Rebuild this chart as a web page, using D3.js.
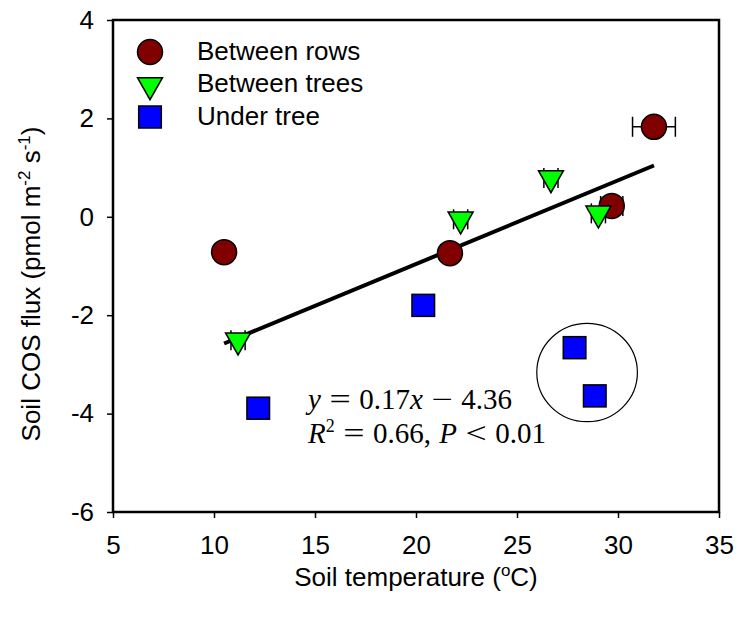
<!DOCTYPE html>
<html>
<head>
<meta charset="utf-8">
<script src="https://cdn.jsdelivr.net/npm/d3@7"></script>
<style>
  body { margin: 0; background: #fff; }
  text { font-family: Arial, "Liberation Sans", sans-serif; }
</style>
</head>
<body>
<div id="chart"></div>
<script>
// values
const rowsX = [10.5, 21.68, 29.69, 31.78];
const rowsY = [-0.72, -0.74, 0.22, 1.83];
const rowsXErr = [0, 0, 0.55, 1.06];

const treesX = [11.19, 22.21, 26.68, 29.03];
const treesY = [-2.51, -0.05, 0.79, 0.07];
const treesXErr = [0.35, 0.35, 0.35, 0.35];

const underX = [12.19, 20.36, 27.85, 28.85];
const underY = [-3.89, -1.80, -2.66, -3.64];

const seriesNames = ["Between rows", "Between trees", "Under tree"];
const xTicks = [5, 10, 15, 20, 25, 30, 35];
const yTicks = [-6, -4, -2, 0, 2, 4];

const slope = 0.17, intercept = -4.36;

const width = 739, height = 626;
const margin = {left: 113, right: 20, top: 20, bottom: 114};
const serif = "'Times New Roman', 'Liberation Serif', serif";

const svg = d3.select("#chart").append("svg")
  .attr("width", width)
  .attr("height", height);

let x = d3.scaleLinear().domain([5, 35]).range([margin.left, width - margin.right]);
let y = d3.scaleLinear().domain([-6, 4]).range([height - margin.bottom, margin.top]);

// frame
svg.append("rect")
  .attr("x", x(5)).attr("y", y(4))
  .attr("width", x(35) - x(5)).attr("height", y(-6) - y(4))
  .attr("fill", "none").attr("stroke", "#000").attr("stroke-width", 2.5);

let xAxis = svg.append("g")
  .attr("transform", `translate(0,${y(-6)})`)
  .call(d3.axisBottom(x).tickValues(xTicks).tickSize(6));
let yAxis = svg.append("g")
  .attr("transform", `translate(${x(5)},0)`)
  .call(d3.axisLeft(y).tickValues(yTicks).tickSize(6).tickPadding(13).tickFormat(d => String(d)));

[xAxis, yAxis].forEach(a => {
  a.select(".domain").remove();
  a.selectAll("line").attr("stroke", "#000").attr("stroke-width", 1.5);
  a.selectAll("text").attr("font-size", 26).attr("fill", "#000")
    .style("font-family", "Arial, 'Liberation Sans', sans-serif");
});
xAxis.selectAll("text").attr("dy", "0.71em").attr("y", 24);

// axis titles
let xt = svg.append("text")
  .attr("x", (x(5) + x(35)) / 2).attr("y", 586)
  .attr("text-anchor", "middle").attr("font-size", 26);
xt.append("tspan").text("Soil temperature (");
xt.append("tspan").text("o").attr("font-size", 17).attr("dy", -10);
xt.append("tspan").text("C)").attr("dy", 10);

let yt = svg.append("text")
  .attr("transform", `translate(40,284) rotate(-90)`)
  .attr("text-anchor", "middle").attr("font-size", 26);
yt.append("tspan").text("Soil COS flux (pmol m");
yt.append("tspan").text("-2").attr("font-size", 17).attr("dy", -10);
yt.append("tspan").text(" s").attr("dy", 10);
yt.append("tspan").text("-1").attr("font-size", 17).attr("dy", -10);
yt.append("tspan").text(")").attr("dy", 10);

// regression line
let allX = rowsX.concat(treesX, underX);
let xr = d3.extent(allX);
svg.append("line")
  .attr("x1", x(xr[0])).attr("y1", y(slope * xr[0] + intercept))
  .attr("x2", x(xr[1])).attr("y2", y(slope * xr[1] + intercept))
  .attr("stroke", "#000").attr("stroke-width", 4);

// error bars
function errorBars(xs, ys, errs) {
  let g = svg.append("g").attr("stroke", "#000").attr("stroke-width", 1.5);
  xs.forEach((v, i) => {
    if (!errs[i]) return;
    let cy = y(ys[i]);
    g.append("line").attr("x1", x(v - errs[i])).attr("x2", x(v + errs[i])).attr("y1", cy).attr("y2", cy);
    [v - errs[i], v + errs[i]].forEach(e => {
      g.append("line").attr("x1", x(e)).attr("x2", x(e)).attr("y1", cy - 10).attr("y2", cy + 10);
    });
  });
}
errorBars(rowsX, rowsY, rowsXErr);
errorBars(treesX, treesY, treesXErr);

const triPath = (cx, cy) => `M${cx - 12.5},${cy - 7.3}L${cx + 12.5},${cy - 7.3}L${cx},${cy + 14.7}Z`;

function drawCircle(g, cx, cy) {
  g.append("circle").attr("cx", cx).attr("cy", cy).attr("r", 12.5)
    .attr("fill", "#800000").attr("stroke", "#000").attr("stroke-width", 1.5);
}
function drawTri(g, cx, cy) {
  g.append("path").attr("d", triPath(cx, cy))
    .attr("fill", "#00ff00").attr("stroke", "#000").attr("stroke-width", 1.5);
}
function drawSquare(g, cx, cy) {
  g.append("rect").attr("x", cx - 11.3).attr("y", cy - 11).attr("width", 22.6).attr("height", 22)
    .attr("fill", "#0000ff").attr("stroke", "#000").attr("stroke-width", 1.5);
}

let marks = svg.append("g");
underX.forEach((v, i) => drawSquare(marks, x(v), y(underY[i])));
rowsX.forEach((v, i) => drawCircle(marks, x(v), y(rowsY[i])));
treesX.forEach((v, i) => drawTri(marks, x(v), y(treesY[i])));

// circled group of under-tree points
svg.append("ellipse")
  .attr("cx", x(28.47)).attr("cy", y(-3.165))
  .attr("rx", x(28.47 + 2.49) - x(28.47)).attr("ry", y(-3.165 - 1) - y(-3.165))
  .attr("fill", "none").attr("stroke", "#000").attr("stroke-width", 1.2);

// legend
let legend = svg.append("g");
let legendY = [52, 85, 117];
drawCircle(legend, 150, legendY[0]);
drawTri(legend, 150, legendY[1]);
drawSquare(legend, 150, legendY[2]);
seriesNames.forEach((s, i) => {
  legend.append("text").attr("x", 197).attr("y", [60, 92, 125][i])
    .attr("font-size", 26).text(s);
});

// equation: pieces laid out between a start and end x, spare room goes around operators
// piece: [text, kind] kind: i italic, n normal, o operator, s superscript
function equation(pieces, x0, x1, base) {
  let items = pieces.map(p => {
    let sx = p[1] == "o" ? 1.3 : 1;
    let t = svg.append("text")
      .style("font-family", serif)
      .attr("font-size", p[1] == "s" ? 18 : 29)
      .attr("font-style", p[1] == "i" ? "italic" : "normal")
      .text(p[0]);
    return {t: t, kind: p[1], sx: sx, w: t.node().getComputedTextLength() * sx};
  });
  let gaps = 0;
  items.forEach((it, i) => { if (i > 0 && it.kind != "s" && items[i - 1].kind != "s" || (i > 0 && items[i - 1].kind == "s")) {} });
  // gap before and after each operator, and after a comma
  let gapAt = items.map((it, i) => i > 0 && (it.kind == "o" || items[i - 1].kind == "o" || /,$/.test(items[i - 1].t.text())) ? 1 : 0);
  gaps = d3.sum(gapAt);
  let free = (x1 - x0) - d3.sum(items, d => d.w);
  let gap = gaps ? free / gaps : 0;
  let cx = x0;
  items.forEach((it, i) => {
    cx += gapAt[i] * gap;
    let by = it.kind == "s" ? base - 11 : base;
    it.t.attr("transform", `translate(${cx},${by}) scale(${it.sx},1)`);
    cx += it.w;
  });
}
equation([["y", "i"], ["=", "o"], ["0.17", "n"], ["x", "i"], ["\u2212", "o"], ["4.36", "n"]], 308, 512, 409);
equation([["R", "i"], ["2", "s"], ["=", "o"], ["0.66,", "n"], ["P", "i"], ["<", "o"], ["0.01", "n"]], 308, 546, 443);
</script>
</body>
</html>
